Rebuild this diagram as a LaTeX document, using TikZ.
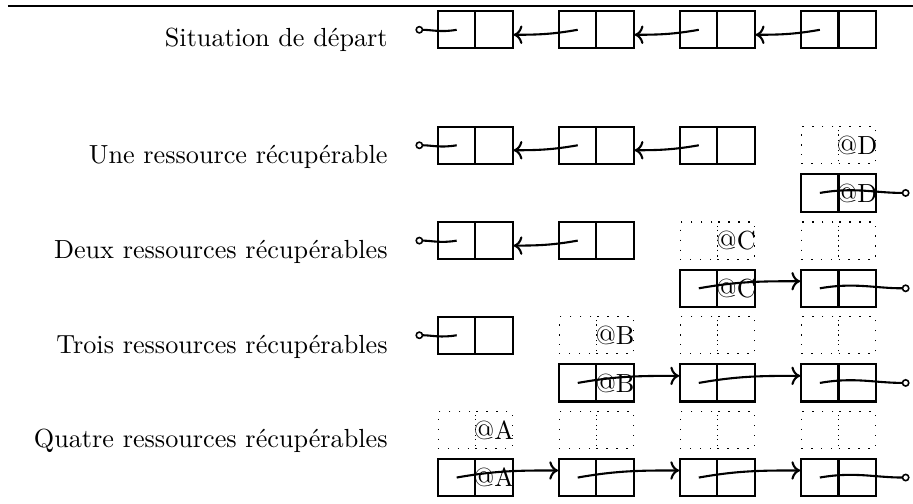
\documentclass[tikz,border=0pt]{standalone}
\usetikzlibrary{arrows.meta}

\tikzset{
  case/.style={draw, thick, minimum width=0.5cm, minimum height=0.5cm, inner sep=0pt},
  libre/.style={draw, thin, dash pattern=on 0.5pt off 3.3pt, minimum width=0.5cm, minimum height=0.5cm, inner sep=0pt},
  adr/.style={inner sep=0pt},
  titre/.style={anchor=base east, inner sep=0pt},
  lien/.style={thick, ->},
  fin/.style={thick, -{Circle[open, length=3pt, width=3pt, line width=0.6pt]}}
}
% un maillon = deux cases : g<nom> (gauche) et d<nom> (droite)
\newcommand{\maillon}[4]{%
  \node[#1] (g#2) at (#3,#4) {};
  \node[#1] (d#2) at (#3+0.5,#4) {};
}

\begin{document}
\begin{tikzpicture}
  \useasboundingbox (0,0) rectangle (12.255,-6.765);
  \draw[line width=1pt] (0.107,-0.08) -- (12.255,-0.08);

  % situation de depart
  \node[titre] (t1) at (5.21,-0.63) {Situation de départ};
  \foreach \c/\x in {1/6.13, 2/7.755, 3/9.38, 4/11.005} {
    \maillon{case}{1\c}{\x}{-0.40}
  }
  \foreach \a/\b in {2/1, 3/2, 4/3}
    \draw[lien] (g1\a.center) to[out=190,in=0] ([yshift=-1.9pt]d1\b.east);
  \coordinate (p1) at ([xshift=-0.29cm]g11.west);
  \draw[fin] (g11.center) to[out=190,in=0] (p1);

  % une ressource
  \node[titre] (t2) at (5.21,-2.19) {Une ressource récupérable};
  \foreach \c/\x in {1/6.13, 2/7.755, 3/9.38} {
    \maillon{case}{2\c}{\x}{-1.95}
  }
  \maillon{libre}{24}{11.005}{-1.95}
  \maillon{case}{b24}{11.005}{-2.59}
  \node[adr] (a24) at (d24) {@D};
  \node[adr] (ab24) at (db24) {@D};
  \foreach \a/\b in {2/1, 3/2}
    \draw[lien] (g2\a.center) to[out=190,in=0] ([yshift=-1.9pt]d2\b.east);
  \coordinate (p2) at ([xshift=-0.29cm]g21.west);
  \draw[fin] (g21.center) to[out=190,in=0] (p2);
  \coordinate (q2) at ([xshift=0.44cm]db24.east);
  \draw[fin] (gb24.center) to[out=10,in=180] (q2);

  % deux ressources
  \node[titre] (t3) at (5.21,-3.47) {Deux ressources récupérables};
  \foreach \c/\x in {1/6.13, 2/7.755} {
    \maillon{case}{3\c}{\x}{-3.23}
  }
  \foreach \c/\x in {3/9.38, 4/11.005} {
    \maillon{libre}{3\c}{\x}{-3.23}
    \maillon{case}{b3\c}{\x}{-3.87}
  }
  \node[adr] (a33) at (d33) {@C};
  \node[adr] (ab33) at (db33) {@C};
  \draw[lien] (g32.center) to[out=190,in=0] ([yshift=-1.9pt]d31.east);
  \coordinate (p3) at ([xshift=-0.29cm]g31.west);
  \draw[fin] (g31.center) to[out=190,in=0] (p3);
  \draw[lien] (gb33.center) to[out=10,in=180] ([yshift=2.7pt]gb34.west);
  \coordinate (q3) at ([xshift=0.44cm]db34.east);
  \draw[fin] (gb34.center) to[out=10,in=180] (q3);

  % trois ressources
  \node[titre] (t4) at (5.21,-4.74) {Trois ressources récupérables};
  \maillon{case}{41}{6.13}{-4.50}
  \foreach \c/\x in {2/7.755, 3/9.38, 4/11.005} {
    \maillon{libre}{4\c}{\x}{-4.50}
    \maillon{case}{b4\c}{\x}{-5.14}
  }
  \node[adr] (a42) at (d42) {@B};
  \node[adr] (ab42) at (db42) {@B};
  \coordinate (p4) at ([xshift=-0.29cm]g41.west);
  \draw[fin] (g41.center) to[out=190,in=0] (p4);
  \foreach \a/\b in {2/3, 3/4}
    \draw[lien] (gb4\a.center) to[out=10,in=180] ([yshift=2.7pt]gb4\b.west);
  \coordinate (q4) at ([xshift=0.44cm]db44.east);
  \draw[fin] (gb44.center) to[out=10,in=180] (q4);

  % quatre ressources
  \node[titre] (t5) at (5.21,-6.01) {Quatre ressources récupérables};
  \foreach \c/\x in {1/6.13, 2/7.755, 3/9.38, 4/11.005} {
    \maillon{libre}{5\c}{\x}{-5.77}
    \maillon{case}{b5\c}{\x}{-6.41}
  }
  \node[adr] (a51) at (d51) {@A};
  \node[adr] (ab51) at (db51) {@A};
  \foreach \a/\b in {1/2, 2/3, 3/4}
    \draw[lien] (gb5\a.center) to[out=10,in=180] ([yshift=2.7pt]gb5\b.west);
  \coordinate (q5) at ([xshift=0.44cm]db54.east);
  \draw[fin] (gb54.center) to[out=10,in=180] (q5);
\end{tikzpicture}
\end{document}
